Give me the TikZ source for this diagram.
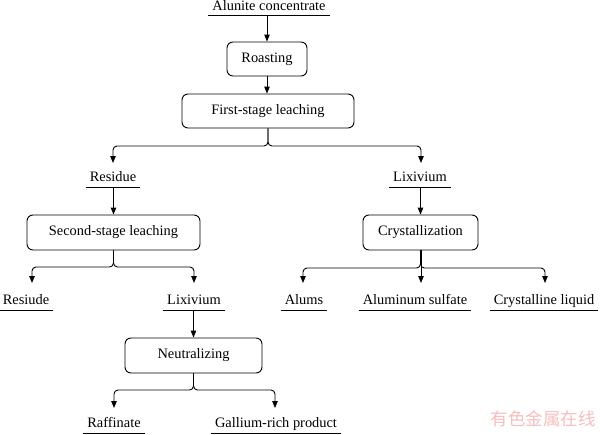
\documentclass[tikz,border=0pt]{standalone}
\usepackage{fontspec}
\setmainfont{Liberation Serif}
\newfontfamily\cjk{Noto Sans CJK SC}
\usetikzlibrary{arrows.meta}
\definecolor{wm}{RGB}{246,190,190}
\begin{document}
\begin{tikzpicture}[x=1pt,y=-1pt,
  txt/.style={font=\fontsize{14.4}{16}\selectfont},
  proc/.style={txt, draw, rounded corners=6pt, line width=0.9pt, inner sep=0pt},
  lbl/.style={txt, inner xsep=4pt, inner ysep=0pt, text height=10pt, text depth=5pt, anchor=south},
  uline/.style={line width=0.9pt},
  arr/.style={-{Triangle[length=7pt,width=5.5pt]}, line width=0.9pt},
  br/.style={arr, rounded corners=4pt}]
\useasboundingbox (0,0) rectangle (600,434);
% process boxes
\node[proc, minimum width=80pt, minimum height=34pt] (roast) at (267,59) {Roasting};
\node[proc, minimum width=172pt, minimum height=34pt] (fs) at (268,111) {First-stage leaching};
\node[proc, minimum width=173pt, minimum height=35pt] (ss) at (113.5,232.5) {Second-stage leaching};
\node[proc, minimum width=115pt, minimum height=35pt] (cry) at (420.5,232.5) {Crystallization};
\node[proc, minimum width=137pt, minimum height=35pt] (neu) at (193.5,355.5) {Neutralizing};
% labels
\node[lbl, text depth=4pt] (alu) at (269,15) {Alunite concentrate};
\node[lbl] (res1) at (113,187) {Residue};
\node[lbl] (lix1) at (420,187) {Lixivium};
\node[lbl] (res2) at (26,310) {Resiude};
\node[lbl] (lix2) at (194,310) {Lixivium};
\node[lbl] (alums) at (304,310) {Alums};
\node[lbl] (als) at (415,310) {Aluminum sulfate};
\node[lbl] (cl) at (544,310) {Crystalline liquid};
\node[lbl] (raf) at (114,433) {Raffinate};
\node[lbl] (gal) at (276,433) {Gallium-rich product};
\foreach \n in {alu,res1,lix1,res2,lix2,alums,als,cl,raf,gal}
  \draw[uline] (\n.south west) -- (\n.south east);
% straight arrows
\draw[arr] (roast.north |- alu.south) -- (roast.north);
\draw[arr] (roast.south) -- (roast.south |- fs.north);
\draw[arr] (ss.north |- res1.south) -- (ss.north);
\draw[arr] (cry.north |- lix1.south) -- (cry.north);
\draw[arr] (neu.north |- lix2.south) -- (neu.north);
% branch endpoints
\coordinate (t1l) at (113,163);
\coordinate (t1r) at (421,163);
\coordinate (t2l) at (32,283);
\coordinate (t2r) at (194,283);
\coordinate (t3l) at (303,283);
\coordinate (t3m) at (421,283);
\coordinate (t3r) at (545,283);
\coordinate (t4l) at (114,408);
\coordinate (t4r) at (275,408);
% branches
\draw[br] (fs.south) -- (fs.south |- 0,146) -- (t1l |- 0,146) -- (t1l);
\draw[br] (fs.south) -- (fs.south |- 0,146) -- (t1r |- 0,146) -- (t1r);
\draw[br] (ss.south) -- (ss.south |- 0,267) -- (t2l |- 0,267) -- (t2l);
\draw[br] (ss.south) -- (ss.south |- 0,267) -- (t2r |- 0,267) -- (t2r);
\draw[br] (cry.south) -- (cry.south |- 0,268) -- (t3l |- 0,268) -- (t3l);
\draw[br] (cry.south) -- (cry.south |- 0,268) -- (t3r |- 0,268) -- (t3r);
\draw[arr] (t3m |- cry.south) -- (t3m);
\draw[br] (neu.south) -- (neu.south |- 0,390) -- (t4l |- 0,390) -- (t4l);
\draw[br] (neu.south) -- (neu.south |- 0,390) -- (t4r |- 0,390) -- (t4r);
% watermark
\node[text=wm, font=\cjk\fontsize{17.5}{18}\selectfont] (wmk) at (543,419) {有色金属在线};
\end{tikzpicture}
\end{document}
